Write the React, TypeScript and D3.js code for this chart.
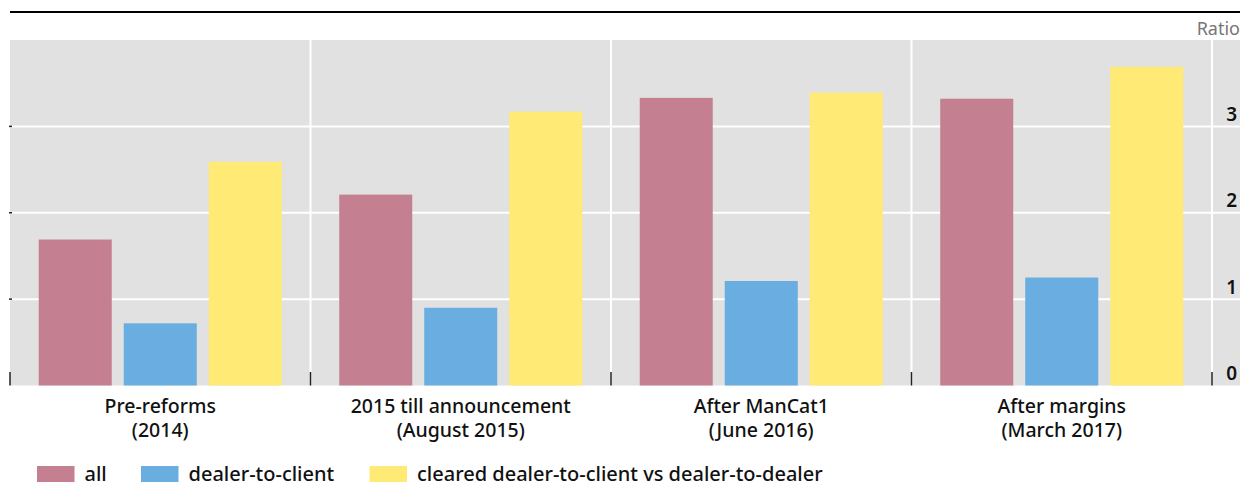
import React from "react";
import * as d3 from "d3";

const categories = [
  ["Pre-reforms", "(2014)"],
  ["2015 till announcement", "(August 2015)"],
  ["After ManCat1", "(June 2016)"],
  ["After margins", "(March 2017)"],
];
const seriesNames = ["all", "dealer-to-client", "cleared dealer-to-client vs dealer-to-dealer"];
const allValues = [1.69, 2.21, 3.33, 3.32];
const dealerToClient = [0.72, 0.9, 1.21, 1.25];
const clearedValues = [2.59, 3.17, 3.39, 3.69];
const yTicks = [0, 1, 2, 3];
const colors = ["#C48090", "#6AADE0", "#FFEA75"];

const W = 1240;
const H = 482;
const FONT = "'Noto Sans', sans-serif";

export default function App() {
  const series = [allValues, dealerToClient, clearedValues];
  const catKeys = categories.map((c) => c.join(" "));
  const x0 = d3.scaleBand<string>().domain(catKeys).range([10, 1212]).paddingInner(0).paddingOuter(0);
  const x1 = d3
    .scaleBand<string>()
    .domain(seriesNames)
    .range([0, x0.bandwidth()])
    .paddingInner(0.141)
    .paddingOuter(0.338);
  const y = d3.scaleLinear().domain([0, 4]).range([385.5, 40]);
  const boundaries = [...catKeys.map((k) => x0(k) as number), 1212];

  return (
    <svg width={W} height={H} style={{ position: "absolute", left: 0, top: 0 }} fontFamily={FONT}>
      <line x1={10} x2={1240} y1={12} y2={12} stroke="#000" strokeWidth={2} />
      <text x={1240} y={35} textAnchor="end" fontSize={18} fill="#767676">
        Ratio
      </text>
      <rect x={10} y={y(4)} width={1230} height={y(0) - y(4)} fill="#E1E1E1" />
      {yTicks.slice(1).map((t) => (
        <line key={t} x1={10} x2={1240} y1={y(t)} y2={y(t)} stroke="#fff" strokeWidth={2} />
      ))}
      {boundaries.slice(1).map((b, i) => (
        <line key={i} x1={b} x2={b} y1={y(4)} y2={y(0)} stroke="#fff" strokeWidth={2} />
      ))}
      {catKeys.map((k, ci) =>
        seriesNames.map((s, si) => {
          const v = series[si][ci];
          return (
            <rect
              key={k + s}
              x={(x0(k) as number) + (x1(s) as number)}
              y={y(v)}
              width={x1.bandwidth()}
              height={y(0) - y(v)}
              fill={colors[si]}
            />
          );
        })
      )}
      {boundaries.map((b, i) => (
        <line key={i} x1={b} x2={b} y1={372} y2={y(0)} stroke="#222" strokeWidth={1.5} />
      ))}
      {yTicks.slice(1).map((t) => (
        <line key={t} x1={9} x2={12} y1={y(t)} y2={y(t)} stroke="#222" strokeWidth={1.5} />
      ))}
      {yTicks.map((t) => (
        <text key={t} x={1237} y={y(t) - 5.5} textAnchor="end" fontSize={19} fontWeight={600} fill="#111">
          {t}
        </text>
      ))}
      {categories.map((c, i) => {
        const cx = (x0(catKeys[i]) as number) + x0.bandwidth() / 2;
        return (
          <text key={i} x={cx} textAnchor="middle" fontSize={19.5} fontWeight={500} fill="#111">
            <tspan x={cx} y={413}>
              {c[0]}
            </tspan>
            <tspan x={cx} y={436.5}>
              {c[1]}
            </tspan>
          </text>
        );
      })}
      {(() => {
        const starts = [37, 141, 369.5];
        return seriesNames.map((s, i) => (
          <g key={s}>
            <rect x={starts[i]} y={466} width={37.5} height={17} fill={colors[i]} />
            <text x={starts[i] + 47.5} y={481} fontSize={20} fontWeight={500} fill="#111">
              {s}
            </text>
          </g>
        ));
      })()}
    </svg>
  );
}
